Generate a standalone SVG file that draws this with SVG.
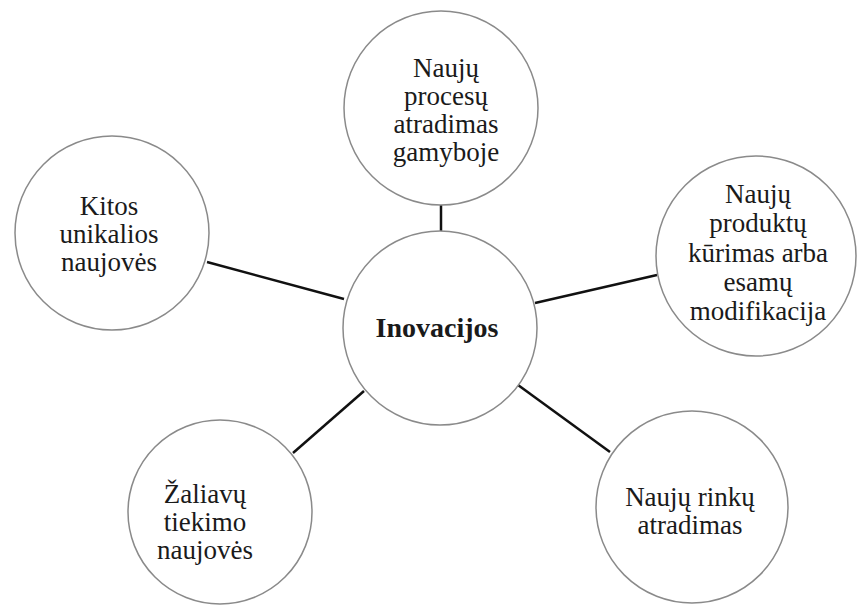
<svg xmlns="http://www.w3.org/2000/svg" width="857" height="614" viewBox="0 0 857 614">
<style>
.c{fill:#fff;stroke:#8a8a8a;stroke-width:1.5}
.t{font-family:"Liberation Serif","Times New Roman",serif;font-size:27px;fill:#1a1a1a;text-anchor:middle}
.b{font-weight:bold;font-size:28px}
.l{stroke:#111;stroke-width:2.5;fill:none}
</style>
<rect width="857" height="614" fill="#fff"/>
<g id="connectors">
<line class="l" x1="441" y1="205" x2="441" y2="231"/>
<line class="l" x1="207" y1="262" x2="344" y2="299"/>
<line class="l" x1="535" y1="303" x2="657" y2="275"/>
<line class="l" x1="364" y1="391" x2="293" y2="453"/>
<line class="l" x1="518" y1="385" x2="610" y2="452"/>
</g>
<g id="center">
<circle class="c" cx="440" cy="328" r="97"/>
<text class="t b" x="437" y="337">Inovacijos</text>
</g>
<g id="top">
<circle class="c" cx="441" cy="108" r="97"/>
<text class="t"><tspan x="446" y="77">Naujų</tspan><tspan x="446" y="105">procesų</tspan><tspan x="446" y="133">atradimas</tspan><tspan x="446" y="161">gamyboje</tspan></text>
</g>
<g id="right">
<circle class="c" cx="756" cy="256" r="100"/>
<text class="t"><tspan x="758" y="203">Naujų</tspan><tspan x="758" y="232">produktų</tspan><tspan x="758" y="262">kūrimas arba</tspan><tspan x="758" y="291">esamų</tspan><tspan x="758" y="320">modifikacija</tspan></text>
</g>
<g id="left">
<circle class="c" cx="112" cy="233" r="97"/>
<text class="t"><tspan x="109" y="215">Kitos</tspan><tspan x="109" y="243">unikalios</tspan><tspan x="109" y="271">naujovės</tspan></text>
</g>
<g id="bottom-left">
<circle class="c" cx="220" cy="512" r="92"/>
<text class="t"><tspan x="205" y="503">Žaliavų</tspan><tspan x="205" y="531">tiekimo</tspan><tspan x="205" y="559">naujovės</tspan></text>
</g>
<g id="bottom-right">
<circle class="c" cx="692" cy="507" r="96"/>
<text class="t"><tspan x="690" y="506">Naujų rinkų</tspan><tspan x="690" y="534">atradimas</tspan></text>
</g>
</svg>
